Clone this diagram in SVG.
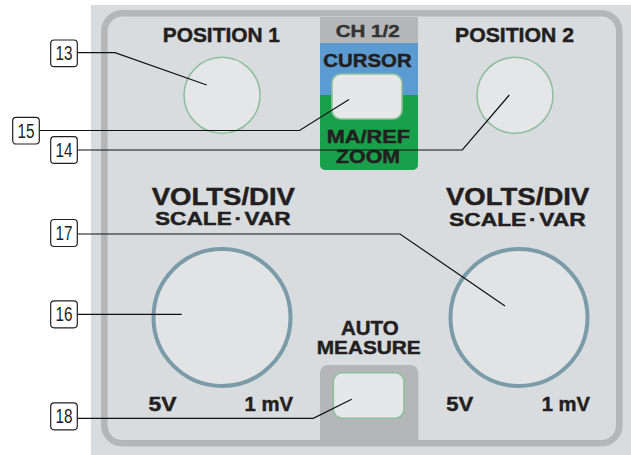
<svg xmlns="http://www.w3.org/2000/svg" width="631" height="455" viewBox="0 0 631 455">
<style>
.lbl{font-family:"Liberation Sans",Arial,sans-serif;font-weight:bold;fill:#231f20;stroke:#231f20;stroke-width:0.45}
.sv{word-spacing:-3px}
.num{font-family:"Liberation Sans",Arial,sans-serif;font-size:19.5px;fill:#231f20;text-anchor:middle}
.box{fill:#ffffff;stroke:#231f20;stroke-width:1.2}
.knobS{fill:#e5e6e8;stroke:#8fbf9f;stroke-width:1.6}
.knobL{fill:#e2e3e5;stroke:#7b9ba9;stroke-width:4}
.btn{fill:#e6e7e9;stroke:#8fc09c;stroke-width:1.6}
.con{fill:none;stroke:#111;stroke-width:1.2}
</style>
<rect x="0" y="0" width="631" height="455" fill="#ffffff"/>
<rect x="91" y="5" width="540" height="450" fill="#d9dcdf"/>
<g id="panel">
<rect x="104.3" y="13.3" width="515" height="430" rx="18" fill="#d9dcdf" stroke="#b5b6b8" stroke-width="6.6"/>
</g>
<g id="ch-block">
<path d="M320,17 H418 V165 a5,5 0 0 1 -5,5 H325 a5,5 0 0 1 -5,-5 Z" fill="#18a14a"/>
<rect x="320" y="17" width="98" height="26" fill="#b5b6b8"/>
<rect x="320" y="43" width="98" height="52" fill="#5b9bd1"/>
<text class="lbl" x="335.7" y="37.3" font-size="17" textLength="64" lengthAdjust="spacingAndGlyphs" style="fill:#333;stroke:#333">CH 1/2</text>
<text class="lbl" x="323.3" y="66.7" font-size="18.6" textLength="88.3" lengthAdjust="spacingAndGlyphs">CURSOR</text>
<text class="lbl" x="326.7" y="142.7" font-size="18" textLength="83.3" lengthAdjust="spacingAndGlyphs">MA/REF</text>
<text class="lbl" x="336" y="163.3" font-size="18" textLength="64" lengthAdjust="spacingAndGlyphs">ZOOM</text>
</g>
<g id="node-15-cursor-button">
<rect class="btn" x="332" y="74" width="70" height="45" rx="9"/>
</g>
<g id="node-13-position1">
<text class="lbl" x="162.7" y="41.7" font-size="20" textLength="117.3" lengthAdjust="spacingAndGlyphs">POSITION 1</text>
<circle class="knobS" cx="222" cy="95.3" r="38"/>
</g>
<g id="node-14-position2">
<text class="lbl" x="455" y="41.7" font-size="20" textLength="119" lengthAdjust="spacingAndGlyphs">POSITION 2</text>
<circle class="knobS" cx="515" cy="95.3" r="38"/>
</g>
<g id="node-16-volts1">
<text class="lbl" x="151.7" y="205" font-size="24.5" textLength="143.3" lengthAdjust="spacingAndGlyphs">VOLTS/DIV</text>
<text class="lbl sv" x="155" y="225" font-size="18.6" textLength="135.7" lengthAdjust="spacingAndGlyphs">SCALE · VAR</text>
<circle class="knobL" cx="222" cy="317.5" r="68.5"/>
<text class="lbl" x="148.6" y="411" font-size="19.5" textLength="28" lengthAdjust="spacingAndGlyphs">5V</text>
<text class="lbl" x="244.5" y="411" font-size="19.5" textLength="48.5" lengthAdjust="spacingAndGlyphs">1 mV</text>
</g>
<g id="node-17-volts2">
<text class="lbl" x="446" y="205" font-size="24.5" textLength="143.3" lengthAdjust="spacingAndGlyphs">VOLTS/DIV</text>
<text class="lbl sv" x="449" y="226" font-size="18.6" textLength="136.7" lengthAdjust="spacingAndGlyphs">SCALE · VAR</text>
<circle class="knobL" cx="519" cy="317.5" r="68.5"/>
<text class="lbl" x="446.2" y="411" font-size="19.5" textLength="27" lengthAdjust="spacingAndGlyphs">5V</text>
<text class="lbl" x="541.7" y="411" font-size="19.5" textLength="48.3" lengthAdjust="spacingAndGlyphs">1 mV</text>
</g>
<g id="node-18-automeasure">
<text class="lbl" x="341" y="335" font-size="19.5" textLength="57.7" lengthAdjust="spacingAndGlyphs">AUTO</text>
<text class="lbl" x="316.7" y="354.3" font-size="19" textLength="104" lengthAdjust="spacingAndGlyphs">MEASURE</text>
<path d="M320,443 V373 a8,8 0 0 1 8,-8 H410.3 a8,8 0 0 1 8,8 V443 Z" fill="#b5b6b8"/>
<rect class="btn" x="333.3" y="372.7" width="70.7" height="45.6" rx="9"/>
</g>
<g id="connectors">
<polyline class="con" points="77.3,52.7 115,52.7 206.7,85"/>
<polyline class="con" points="39.3,130.5 299.5,130.5 349,99.5"/>
<polyline class="con" points="77.3,150 462.3,150 509.3,95"/>
<polyline class="con" points="77.3,234 400,234 505,306"/>
<polyline class="con" points="77.3,314.3 181.7,314.3"/>
<polyline class="con" points="77.3,418.3 313.3,418.3 351.7,399.3"/>
</g>
<g id="label-13"><rect class="box" x="50.7" y="40" width="26.6" height="26.7" rx="3.5"/><text class="num" x="64" y="60.3" textLength="17" lengthAdjust="spacingAndGlyphs">13</text></g>
<g id="label-15"><rect class="box" x="12.7" y="117.3" width="26.6" height="26.7" rx="3.5"/><text class="num" x="26" y="137.6" textLength="17" lengthAdjust="spacingAndGlyphs">15</text></g>
<g id="label-14"><rect class="box" x="50.7" y="136.7" width="26.6" height="26.7" rx="3.5"/><text class="num" x="64" y="157" textLength="17" lengthAdjust="spacingAndGlyphs">14</text></g>
<g id="label-17"><rect class="box" x="50.7" y="219.5" width="26.6" height="27" rx="3.5"/><text class="num" x="64" y="240" textLength="17" lengthAdjust="spacingAndGlyphs">17</text></g>
<g id="label-16"><rect class="box" x="50.7" y="300.8" width="26.6" height="27" rx="3.5"/><text class="num" x="64" y="321.3" textLength="17" lengthAdjust="spacingAndGlyphs">16</text></g>
<g id="label-18"><rect class="box" x="50.7" y="402.8" width="26.6" height="27" rx="3.5"/><text class="num" x="64" y="423.3" textLength="17" lengthAdjust="spacingAndGlyphs">18</text></g>
</svg>
